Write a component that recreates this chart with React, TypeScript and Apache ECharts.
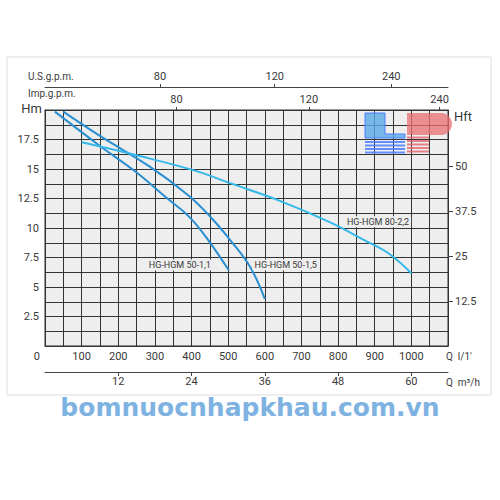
import React, { useEffect, useRef } from "react";
import * as echarts from "echarts";

// Flow in l/min (bottom axis), head in m
const q50_11 = [27, 150, 250, 330, 395, 445, 502];
const h50_11 = [19.86, 16.95, 14.7, 12.6, 10.9, 9.0, 6.4];
const q50_15 = [50, 150, 286, 390, 450, 505, 560, 600];
const h50_15 = [19.86, 17.8, 15.2, 12.8, 11.0, 9.0, 6.7, 4.0];
const q80_22 = [100, 245, 409, 505, 641, 777, 870, 940, 1000];
const h80_22 = [17.26, 16.2, 14.86, 13.8, 12.3, 10.5, 9.0, 7.8, 6.16];

const seriesNames = ["HG-HGM 50-1,1", "HG-HGM 50-1,5", "HG-HGM 80-2,2"];
const seriesLabelAt = [
  [368, 6.86],
  [657, 6.86],
  [909, 10.53],
];

const qLpmTicks = [100, 200, 300, 400, 500, 600, 700, 800, 900, 1000];
const hmTicks = [2.5, 5, 7.5, 10, 12.5, 15, 17.5];
const hftTicks = [12.5, 25, 37.5, 50];
const m3hTicks = [12, 24, 36, 48, 60];
const impGpmLabels = ["80", "120", "240"];
const impGpmAtLpm = [359, 720, 1077];
const usGpmLabels = ["80", "120", "240"];
const usGpmAtLpm = [314, 627, 945];

const FONT = "Roboto";
const TXT = "#3a3a3a";

export default function App() {
  const ref = useRef<HTMLDivElement>(null);
  useEffect(() => {
    if (!ref.current) return;
    const chart = echarts.init(ref.current, null, { renderer: "svg" });
    const mk = (q: number[], h: number[]) => q.map((v, i) => [v, h[i]]);
    const colors = ["#2a8fd2", "#2a8fd2", "#35b8ea"];
    const datas = [mk(q50_11, h50_11), mk(q50_15, h50_15), mk(q80_22, h80_22)];
    const labelMap = (vals: number[], labels: string[]) => (v: number) => {
      const i = vals.findIndex((x) => Math.abs(x - v) < 0.5);
      return i >= 0 ? labels[i] : "";
    };
    const plain = (v: number) => String(v);
    const txt = (text: string, x: number, y: number, size: number, align = "left") => ({
      type: "text",
      x,
      y,
      style: { text, fill: TXT, fontSize: size, fontFamily: FONT, align, verticalAlign: "middle" },
      z: 10,
    });
    const lbl = { color: TXT, fontFamily: FONT, fontSize: 11 };
    chart.setOption({
      animation: false,
      backgroundColor: "#ffffff",
      grid: {
        left: 45,
        top: 110,
        width: 403,
        height: 236,
        show: true,
        backgroundColor: "#eeeeee",
        borderColor: "#333333",
        borderWidth: 1,
      },
      xAxis: [
        {
          type: "value",
          position: "bottom",
          min: 0,
          max: 1100,
          interval: 50,
          axisLine: { show: true, onZero: false, lineStyle: { color: "#333" } },
          axisTick: { show: false },
          splitLine: { show: true, lineStyle: { color: "#333333", width: 1 } },
          axisLabel: { customValues: qLpmTicks, formatter: plain, margin: 5, ...lbl },
        },
        {
          type: "value",
          position: "bottom",
          offset: 26,
          min: 0,
          max: 66,
          axisLine: { show: true, onZero: false, lineStyle: { color: "#444" } },
          axisTick: { show: true, customValues: m3hTicks, length: 4, lineStyle: { color: "#444" } },
          splitLine: { show: false },
          axisLabel: { customValues: m3hTicks, formatter: plain, margin: 4, ...lbl },
        },
        {
          type: "value",
          position: "top",
          offset: 0,
          min: 0,
          max: 1100,
          axisLine: { show: true, onZero: false, lineStyle: { color: "#333" } },
          axisTick: { show: true, customValues: impGpmAtLpm, length: 3, lineStyle: { color: "#444" } },
          splitLine: { show: false },
          axisLabel: {
            customValues: impGpmAtLpm,
            formatter: labelMap(impGpmAtLpm, impGpmLabels),
            margin: 5,
            ...lbl,
          },
        },
        {
          type: "value",
          position: "top",
          offset: 23,
          min: 0,
          max: 1100,
          axisLine: { show: true, onZero: false, lineStyle: { color: "#444" } },
          axisTick: { show: true, customValues: usGpmAtLpm, length: 3, lineStyle: { color: "#444" } },
          splitLine: { show: false },
          axisLabel: {
            customValues: usGpmAtLpm,
            formatter: labelMap(usGpmAtLpm, usGpmLabels),
            margin: 5,
            ...lbl,
          },
        },
      ],
      yAxis: [
        {
          type: "value",
          position: "left",
          min: 0,
          max: 20,
          interval: 1.25,
          axisLine: { show: true, onZero: false, lineStyle: { color: "#333" } },
          axisTick: { show: false },
          splitLine: { show: true, lineStyle: { color: "#333333", width: 1 } },
          axisLabel: { customValues: hmTicks, formatter: plain, margin: 6, ...lbl },
        },
        {
          type: "value",
          position: "right",
          min: 0,
          max: 20 * 3.28084,
          axisLine: { show: true, onZero: false, lineStyle: { color: "#333" } },
          axisTick: { show: true, customValues: hftTicks, length: 5, lineStyle: { color: "#444" } },
          splitLine: { show: false },
          axisLabel: { customValues: hftTicks, formatter: plain, margin: 7, ...lbl },
        },
      ],
      series: datas.map((d, i) => ({
        type: "line",
        name: seriesNames[i],
        xAxisIndex: 0,
        yAxisIndex: 0,
        data: d,
        smooth: 0.4,
        showSymbol: false,
        lineStyle: { color: colors[i], width: 2 },
        z: 3,
        markPoint: {
          symbol: "rect",
          symbolSize: 0,
          silent: true,
          data: [
            {
              coord: seriesLabelAt[i],
              label: {
                show: true,
                position: "inside",
                formatter: seriesNames[i],
                color: TXT,
                fontFamily: FONT,
                fontSize: 9,
                backgroundColor: "#eeeeee",
                padding: [1, 2],
              },
            },
          ],
        },
      })),
      graphic: [
        {
          type: "rect",
          shape: { x: 7, y: 57, width: 484, height: 338 },
          style: { fill: "none", stroke: "#dddddd", lineWidth: 1 },
          z: -1,
          silent: true,
        },
        txt("U.S.g.p.m.", 28, 76, 10),
        txt("Imp.g.p.m.", 28, 93, 10),
        txt("Hm", 42, 108, 13, "right"),
        txt("Hft", 454, 116, 13, "left"),
        txt("0", 40, 356, 11, "right"),
        txt("Q  l/1'", 446, 356, 10, "left"),
        txt("Q  m³/h", 446, 382, 10, "left"),
        // logo
        {
          type: "polygon",
          shape: { points: [[365, 113], [385, 113], [385, 134], [405, 134], [405, 138], [365, 138]] },
          style: { fill: "rgba(90,170,230,0.8)", stroke: "#4a7dff", lineWidth: 1 },
          z: 5,
        },
        ...[141, 144.5, 148, 151.5].map((y) => ({
          type: "rect",
          shape: { x: 365, y, width: 40, height: 2 },
          style: { fill: "rgba(74,125,255,0.85)" },
          z: 5,
        })),
        {
          type: "rect",
          shape: { x: 407, y: 113, width: 45, height: 22, r: [0, 11, 11, 0] },
          style: { fill: "rgba(232,110,112,0.75)" },
          z: 5,
        },
        ...[136.5, 140, 143.5, 147, 150.5].map((y) => ({
          type: "rect",
          shape: { x: 407, y, width: 22, height: 2 },
          style: { fill: "rgba(225,100,105,0.8)" },
          z: 5,
        })),
        {
          type: "text",
          x: 250,
          y: 407,
          style: {
            text: "bomnuocnhapkhau.com.vn",
            fill: "#7eb3e1",
            fontSize: 25,
            fontWeight: 900,
            fontFamily: "DejaVu Sans",
            align: "center",
            verticalAlign: "middle",
          },
          z: 10,
        },
      ],
    });
    return () => chart.dispose();
  }, []);
  return (
    <div
      ref={ref}
      style={{ position: "fixed", left: 0, top: 0, width: 500, height: 500 }}
    />
  );
}
